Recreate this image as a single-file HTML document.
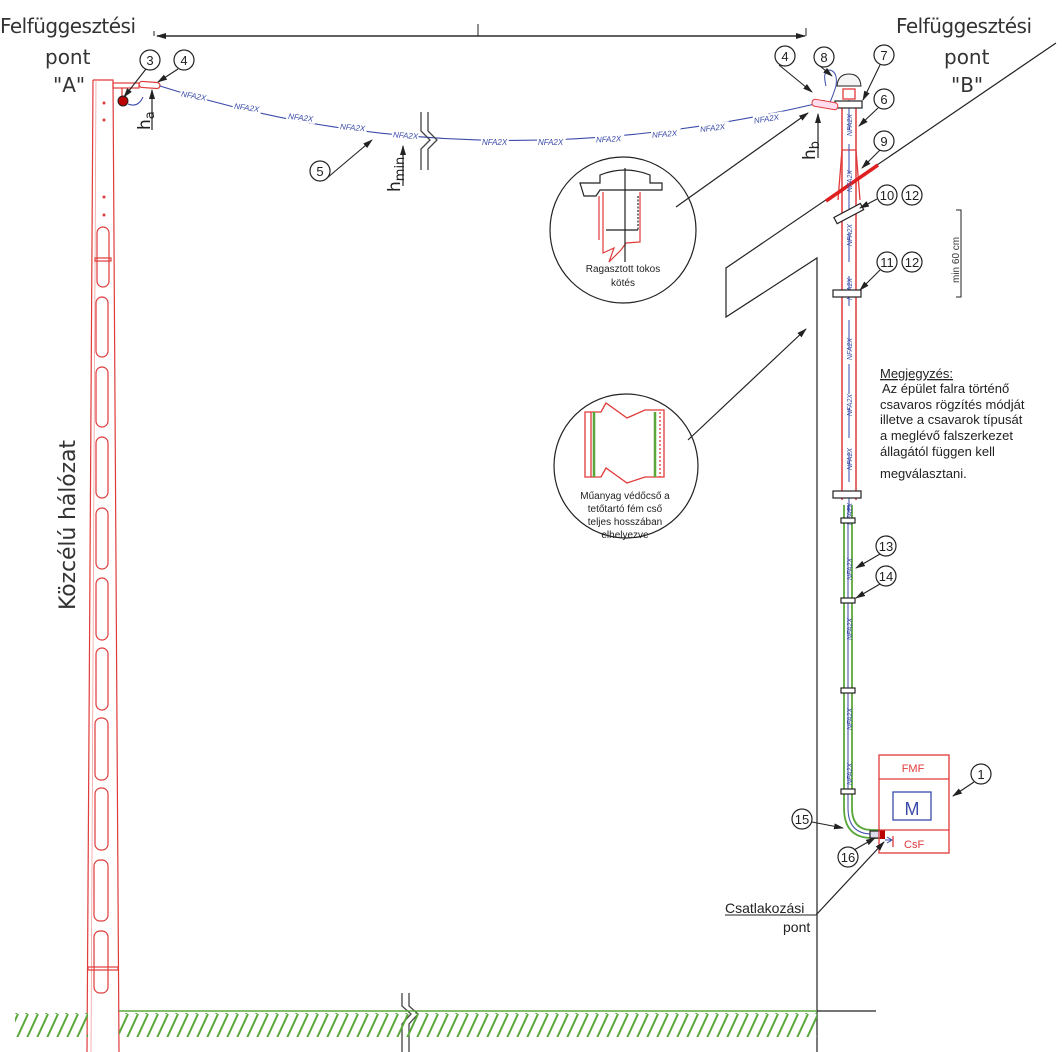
<!DOCTYPE html>
<html><head><meta charset="utf-8"><style>
html,body{margin:0;padding:0;background:#fff;}
svg{display:block;}
text{font-family:"Liberation Sans",sans-serif;}
.lb{paint-order:stroke;stroke:#fff;stroke-width:4px;}
</style></head><body>
<svg width="1062" height="1052" viewBox="0 0 1062 1052" xmlns="http://www.w3.org/2000/svg">
<defs>
<marker id="ar" markerWidth="10" markerHeight="8" refX="9" refY="4" orient="auto" markerUnits="userSpaceOnUse"><path d="M0,1 L10,4 L0,7 z" fill="#222"/></marker>
<pattern id="hatch" width="10" height="26" patternUnits="userSpaceOnUse"><path d="M-4,26 L8,0 M6,26 L18,0" stroke="#5aa83a" stroke-width="2"/></pattern>
</defs>

<line x1="157" y1="36" x2="805" y2="36" stroke="#222" stroke-width="1.2" marker-end="url(#ar)"/>
<line x1="805" y1="36" x2="157" y2="36" stroke="#222" stroke-width="1.2" marker-end="url(#ar)"/>
<line x1="154" y1="31" x2="154" y2="36" stroke="#222"/>
<line x1="478" y1="24" x2="478" y2="36" stroke="#222"/>
<line x1="806" y1="28" x2="806" y2="36" stroke="#222"/>

<g font-size="20" fill="#333">
<text x="0" y="33" style="font-family:'DejaVu Sans',sans-serif" textLength="136">Felfüggesztési</text>
<text x="45" y="64" style="font-family:'DejaVu Sans',sans-serif">pont</text>
<text x="53" y="92" style="font-family:'DejaVu Sans',sans-serif">"A"</text>
<text x="896" y="33" style="font-family:'DejaVu Sans',sans-serif" textLength="136">Felfüggesztési</text>
<text x="944" y="64" style="font-family:'DejaVu Sans',sans-serif">pont</text>
<text x="951" y="92" style="font-family:'DejaVu Sans',sans-serif">"B"</text>
</g>
<text transform="translate(75,610) rotate(-90)" font-size="22" fill="#333" style="font-family:'DejaVu Sans',sans-serif" textLength="170">Közcélú hálózat</text>

<g stroke="#e03a3a" fill="none" stroke-width="1.2">
<path d="M93,80 L113,80 L119,1052 M93,80 L87,1052"/>
<line x1="96" y1="80" x2="91" y2="1052" stroke="#f0a0a0" stroke-width="0.8"/>
<rect x="97" y="227" width="12" height="60" rx="6"/>
<rect x="96" y="297" width="12" height="60" rx="6"/>
<rect x="96" y="367" width="12" height="60" rx="6"/>
<rect x="96" y="437" width="12" height="61" rx="6"/>
<rect x="96" y="508" width="12" height="61" rx="6"/>
<rect x="96" y="578" width="12" height="62" rx="6"/>
<rect x="96" y="648" width="12" height="62" rx="6"/>
<rect x="95" y="718" width="13" height="62" rx="6"/>
<rect x="95" y="788" width="13" height="62" rx="6"/>
<rect x="94" y="860" width="14" height="61" rx="6"/>
<rect x="94" y="931" width="14" height="62" rx="6"/>
<rect x="95" y="258" width="16" height="3"/>
<rect x="88" y="967" width="30" height="3"/>
<rect x="113" y="83" width="26" height="5"/>
<rect x="139" y="82" width="21" height="6" rx="3" transform="rotate(4 150 85)"/>
<line x1="122" y1="88" x2="122" y2="96"/>
</g>
<g fill="#e03a3a"><circle cx="104" cy="103" r="1.5"/><circle cx="104" cy="120" r="1.5"/><circle cx="104" cy="197" r="1.5"/><circle cx="104" cy="215" r="1.5"/></g>
<circle cx="123" cy="101" r="5" fill="#b00" stroke="#222"/>
<path d="M128,104 Q138,108 143,97" stroke="#3a4aa8" fill="none"/>

<path d="M160,86 Q470,185 815,104" stroke="#3a4aa8" stroke-width="1.1" fill="none"/>
<g font-size="8" fill="#3a4aa8" font-style="italic" class="lb">
<text class="lb" x="181" y="98" transform="rotate(10 190 96)">NFA2X</text>
<text class="lb" x="234" y="110" transform="rotate(8 244 108)">NFA2X</text>
<text class="lb" x="288" y="120" transform="rotate(7 298 118)">NFA2X</text>
<text class="lb" x="340" y="130" transform="rotate(5 350 128)">NFA2X</text>
<text class="lb" x="393" y="138" transform="rotate(4 403 135)">NFA2X</text>
<text class="lb" x="482" y="145">NFA2X</text>
<text class="lb" x="538" y="145">NFA2X</text>
<text class="lb" x="596" y="142" transform="rotate(-3 606 140)">NFA2X</text>
<text class="lb" x="652" y="137" transform="rotate(-5 662 135)">NFA2X</text>
<text class="lb" x="700" y="131" transform="rotate(-7 710 129)">NFA2X</text>
<text class="lb" x="754" y="122" transform="rotate(-9 764 120)">NFA2X</text>
</g>
<g stroke="#444" fill="none" stroke-width="1.3">
<path d="M421,112 L421,131 L430,140 L421,149 L421,170"/>
<path d="M428,112 L428,131 L437,140 L428,149 L428,170"/>
<path d="M402,993 L402,1006 L411,1014 L402,1024 L402,1052"/>
<path d="M409,993 L409,1006 L418,1014 L409,1024 L409,1052"/>
</g>

<g stroke="#222" stroke-width="1.2">
<line x1="152" y1="130" x2="152" y2="90" marker-end="url(#ar)"/>
<line x1="403" y1="186" x2="403" y2="146" marker-end="url(#ar)"/>
<line x1="818" y1="158" x2="818" y2="114" marker-end="url(#ar)"/>
</g>
<g font-size="17" fill="#222">
<text transform="translate(150,130) rotate(-90)" style="font-family:'DejaVu Sans',sans-serif">h<tspan font-size="13" dy="4">a</tspan></text>
<text transform="translate(400,192) rotate(-90)" style="font-family:'DejaVu Sans',sans-serif">h<tspan font-size="13" dy="4">min</tspan></text>
<text transform="translate(815,160) rotate(-90)" style="font-family:'DejaVu Sans',sans-serif">h<tspan font-size="13" dy="4">b</tspan></text>
</g>

<g stroke="#222" stroke-width="1.2" fill="none">
<path d="M1056,43 L726,268 L726,317 L817,258 L817,1052"/>
<line x1="817" y1="1011" x2="876" y2="1011"/>
</g>

<rect x="15" y="1013" width="73" height="24" fill="url(#hatch)"/>
<rect x="119" y="1013" width="698" height="24" fill="url(#hatch)"/>
<line x1="119" y1="1011" x2="817" y2="1011" stroke="#5aa83a" stroke-width="1.5"/>

<g fill="none">
<path d="M842,103 L842,500 M856,103 L856,500" stroke="#e03a3a" stroke-width="1.5"/>
<path d="M842,150 L838,200 M856,150 L860,200 M842,150 L856,150" stroke="#e03a3a" stroke-width="1.3"/>
<line x1="826" y1="201" x2="878" y2="165" stroke="#e02020" stroke-width="3.5"/>
<rect x="843" y="89" width="12" height="10" stroke="#e03a3a" stroke-width="1.3"/>
<path d="M837,86 Q838,74 849,74 Q860,74 861,86 Z" stroke="#222" fill="#f4f4f4"/>
<line x1="849" y1="100" x2="849" y2="512" stroke="#3a4aa8" stroke-width="1" stroke-dasharray="30,14"/>
<path d="M844,505 L844,808 Q844,838 872,838 L880,838 M852,505 L852,808 Q852,830 872,830 L880,830" stroke="#5aa83a" stroke-width="1.8"/>
<path d="M848,505 L848,808 Q848,834 872,834 L880,834" stroke="#3a4aa8" stroke-width="1"/>
<path d="M826,86 Q822,70 830,70 Q838,72 836,86 Q825,120 824,100" stroke="#3a4aa8" stroke-width="1"/>
</g>
<g font-size="7" fill="#3a4aa8" font-style="italic">
<text transform="translate(852,136) rotate(-90)">NFA2X</text>
<text transform="translate(852,192) rotate(-90)">NFA2X</text>
<text transform="translate(852,246) rotate(-90)">NFA2X</text>
<text transform="translate(852,300) rotate(-90)">NFA2X</text>
<text transform="translate(852,360) rotate(-90)">NFA2X</text>
<text transform="translate(852,416) rotate(-90)">NFA2X</text>
<text transform="translate(852,470) rotate(-90)">NFA2X</text>
<text transform="translate(852,525) rotate(-90)">NFA2X</text>
<text transform="translate(852,580) rotate(-90)">NFA2X</text>
<text transform="translate(852,640) rotate(-90)">NFA2X</text>
<text transform="translate(852,730) rotate(-90)">NFA2X</text>
<text transform="translate(852,785) rotate(-90)">NFA2X</text>
</g>
<g stroke="#222" stroke-width="1.2" fill="#fff">
<rect x="835" y="101" width="27" height="7"/>
<rect x="833" y="290" width="28" height="7"/>
<rect x="833" y="491" width="28" height="7"/>
<rect x="841" y="518" width="14" height="5"/>
<rect x="841" y="598" width="14" height="5"/>
<rect x="841" y="688" width="14" height="5"/>
<rect x="841" y="789" width="14" height="5"/>
<rect x="834" y="210" width="30" height="7" transform="rotate(-28 849 214)"/>
<rect x="870" y="831" width="12" height="7" fill="#dde"/>
</g>
<rect x="812" y="101" width="26" height="7" rx="3" stroke="#e03a3a" fill="#fde" transform="rotate(10 825 104)"/>
<rect x="880" y="830" width="5" height="9" fill="#b00"/>

<g stroke="#e03a3a" stroke-width="1.3" fill="none">
<rect x="879" y="755" width="70" height="98"/>
<line x1="879" y1="779" x2="949" y2="779"/>
<line x1="879" y1="830" x2="949" y2="830"/>
<line x1="893" y1="836" x2="893" y2="847"/>
</g>
<rect x="893" y="792" width="38" height="28" fill="none" stroke="#3a4aa8" stroke-width="1.3"/>
<text x="912" y="815" font-size="18" text-anchor="middle" fill="#3a4aa8">M</text>
<text x="913" y="772" font-size="11" text-anchor="middle" fill="#e03a3a">FMF</text>
<text x="904" y="848" font-size="11" fill="#e03a3a">CsF</text>
<path d="M885,840 L891,840 M887,837 L892,840 L887,843" stroke="#3a4aa8" fill="none"/>

<path d="M956,210 L961,210 L961,297 L956,297" stroke="#222" fill="none"/>
<text transform="translate(959,283) rotate(-90)" font-size="10" fill="#333">min 60 cm</text>

<circle cx="623" cy="230" r="73" fill="none" stroke="#222" stroke-width="1.2"/>
<line x1="676" y1="207" x2="808" y2="113" stroke="#222" stroke-width="1.2" marker-end="url(#ar)"/>
<g fill="none" stroke-width="1.2">
<path d="M580,183 L600,183 L600,175 Q625,165 650,175 L650,183 L662,183 L662,190 L600,190 L596,196 L584,196 Z" stroke="#222" fill="#fff"/>
<path d="M603,192 L603,253 L614,248 L609,262 L621,250 L626,243 L640,242 L640,192 M599,196 L599,240" stroke="#e03a3a"/>
<path d="M606,230 L638,230 M625,168 L625,262" stroke="#222"/>
<line x1="638" y1="196" x2="638" y2="230" stroke="#222" stroke-dasharray="2,1.5"/>
</g>
<text x="623" y="272" font-size="10" text-anchor="middle" fill="#222">Ragasztott tokos</text>
<text x="623" y="286" font-size="10" text-anchor="middle" fill="#222">kötés</text>

<circle cx="626" cy="466" r="72" fill="none" stroke="#222" stroke-width="1.2"/>
<line x1="688" y1="440" x2="806" y2="329" stroke="#222" stroke-width="1.2" marker-end="url(#ar)"/>
<g fill="none" stroke-width="1.3">
<path d="M585,412 L601,412 L606,403 L627,418 L645,410 L664,410 L664,477 L645,477 L627,483 L606,468 L601,477 L585,477 Z" stroke="#e03a3a"/>
<line x1="591" y1="412" x2="591" y2="477" stroke="#e03a3a"/>
<line x1="594" y1="412" x2="594" y2="477" stroke="#5aa83a" stroke-width="2.5"/>
<line x1="655" y1="412" x2="655" y2="477" stroke="#5aa83a" stroke-width="2.5"/>
<line x1="660" y1="412" x2="660" y2="477" stroke="#e03a3a" stroke-dasharray="2,2"/>
</g>
<g font-size="10" text-anchor="middle" fill="#222">
<text x="625" y="499">Műanyag védőcső a</text>
<text x="625" y="512">tetőtartó fém cső</text>
<text x="625" y="525">teljes hosszában</text>
<text x="625" y="538">elhelyezve</text>
</g>

<g font-size="13" fill="#222">
<text x="880" y="378" text-decoration="underline">Megjegyzés:</text>
<text x="882" y="393">Az épület falra történő</text>
<text x="880" y="409">csavaros rögzítés módját</text>
<text x="880" y="424">illetve a csavarok típusát</text>
<text x="880" y="440">a meglévő falszerkezet</text>
<text x="880" y="456">állagától függen kell</text>
<text x="880" y="478">megválasztani.</text>
</g>

<text x="725" y="913" font-size="14" fill="#222">Csatlakozási</text>
<line x1="725" y1="915" x2="816" y2="915" stroke="#222"/>
<text x="783" y="932" font-size="14" fill="#222">pont</text>
<line x1="816" y1="915" x2="884" y2="842" stroke="#222" stroke-width="1.2" marker-end="url(#ar)"/>

<g stroke="#222" stroke-width="1.2" fill="#fff">
<circle cx="150" cy="60" r="10"/><circle cx="184" cy="60" r="10"/>
<circle cx="320" cy="171" r="10"/>
<circle cx="785" cy="56" r="10"/><circle cx="824" cy="57" r="10"/><circle cx="884" cy="55" r="10"/>
<circle cx="884" cy="99" r="10"/><circle cx="884" cy="141" r="10"/>
<circle cx="887" cy="195" r="10"/><circle cx="912" cy="195" r="10"/>
<circle cx="887" cy="262" r="10"/><circle cx="912" cy="262" r="10"/>
<circle cx="886" cy="546" r="10"/><circle cx="886" cy="576" r="10"/>
<circle cx="981" cy="774" r="10"/>
<circle cx="802" cy="819" r="10"/><circle cx="848" cy="857" r="10"/>
</g>
<g font-size="13" text-anchor="middle" fill="#222">
<text x="150" y="65">3</text><text x="184" y="65">4</text><text x="320" y="176">5</text>
<text x="785" y="61">4</text><text x="824" y="62">8</text><text x="884" y="60">7</text>
<text x="884" y="104">6</text><text x="884" y="146">9</text>
<text x="887" y="200">10</text><text x="912" y="200">12</text>
<text x="887" y="267">11</text><text x="912" y="267">12</text>
<text x="886" y="551">13</text><text x="886" y="581">14</text>
<text x="981" y="779">1</text><text x="802" y="824">15</text><text x="848" y="862">16</text>
</g>
<g stroke="#222" stroke-width="1.1" marker-end="url(#ar)">
<line x1="146" y1="69" x2="124" y2="97"/>
<line x1="178" y1="69" x2="158" y2="82"/>
<line x1="327" y1="178" x2="372" y2="140"/>
<line x1="779" y1="65" x2="812" y2="92"/>
<line x1="820" y1="66" x2="832" y2="76"/>
<line x1="880" y1="65" x2="863" y2="100"/>
<line x1="878" y1="108" x2="859" y2="126"/>
<line x1="880" y1="150" x2="862" y2="168"/>
<line x1="877" y1="199" x2="860" y2="208"/>
<line x1="880" y1="270" x2="860" y2="290"/>
<line x1="880" y1="554" x2="856" y2="568"/>
<line x1="880" y1="584" x2="856" y2="598"/>
<line x1="974" y1="782" x2="953" y2="796"/>
<line x1="812" y1="822" x2="843" y2="828"/>
<line x1="854" y1="850" x2="875" y2="838"/>
</g>
</svg>
</body></html>
